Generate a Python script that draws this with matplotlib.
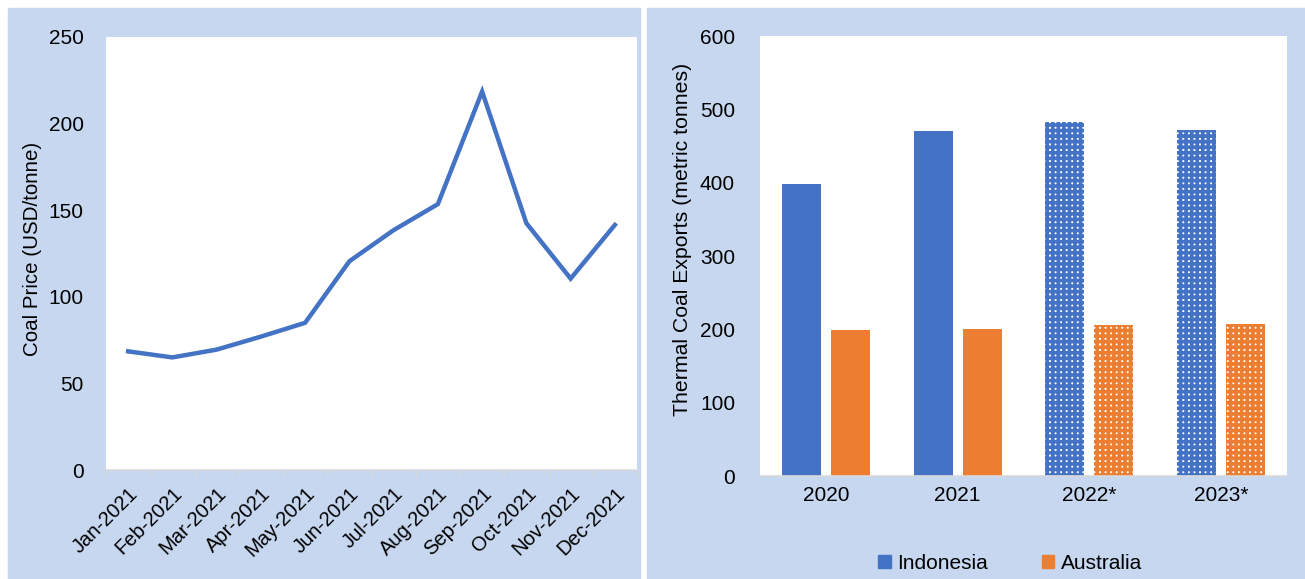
import matplotlib.pyplot as plt
import matplotlib.patches as mpatches
import numpy as np

plt.rcParams['font.family'] = ['Liberation Sans', 'DejaVu Sans']
plt.rcParams['hatch.linewidth'] = 2.6

# data
months = ['Jan-2021', 'Feb-2021', 'Mar-2021', 'Apr-2021', 'May-2021', 'Jun-2021',
          'Jul-2021', 'Aug-2021', 'Sep-2021', 'Oct-2021', 'Nov-2021', 'Dec-2021']
coal_price = [68.5, 65, 69.5, 77, 85, 120.5, 138.5, 153.5, 218.5, 142.5, 110.5, 141.5]

years = ['2020', '2021', '2022*', '2023*']
indonesia = [398, 471, 483, 472]
australia = [199, 200, 206, 207]
forecast = [False, False, True, True]

blue = '#4472C4'
orange = '#ED7D31'
panel_bg = '#C6D7EF'
gray = '#D9D9D9'

fig = plt.figure(figsize=(13.05, 5.79), dpi=100)
W, H = 1305, 579

# panel backgrounds
fig.patches.append(mpatches.Rectangle((8 / W, 0), (640 - 8) / W, (H - 8) / H,
                                      transform=fig.transFigure, color=panel_bg, zorder=-1))
fig.patches.append(mpatches.Rectangle((647 / W, 0), (W - 647) / W, (H - 8) / H,
                                      transform=fig.transFigure, color=panel_bg, zorder=-1))

# left: coal price line
ax1 = fig.add_axes([106 / W, (H - 470) / H, 531 / W, 433 / H])
ax1.set_facecolor('white')
x = np.arange(len(months))
ax1.plot(x, coal_price, color=blue, lw=3.2, solid_joinstyle='miter')
ax1.set_xlim(-0.5, len(months) - 0.5)
ax1.set_ylim(0, 250)
ax1.set_yticks(range(0, 251, 50))
ax1.set_xticks(x)
ax1.set_xticklabels(months, rotation=45, ha='right', rotation_mode='anchor')
ax1.set_xticks(np.arange(-0.5, len(months), 1), minor=True)
ax1.tick_params(axis='x', which='major', length=0, pad=10, labelsize=14.5)
ax1.tick_params(axis='x', which='minor', length=5, color=gray, width=1)
ax1.tick_params(axis='y', length=0, pad=16, labelsize=15)
for s in ['top', 'right', 'left']:
    ax1.spines[s].set_visible(False)
ax1.spines['bottom'].set_color(gray)
ax1.spines['bottom'].set_linewidth(1.2)
ax1.set_ylabel('Coal Price (USD/tonne)', fontsize=14.8, labelpad=5)
ax1.yaxis.label.set_y(0.51)

# right: thermal coal exports
ax2 = fig.add_axes([760 / W, (H - 476) / H, 527 / W, 440 / H])
ax2.set_facecolor('white')
xb = np.arange(len(years))
bw = 0.295
off = 0.186
for i in range(len(years)):
    if forecast[i]:
        ax2.bar(xb[i] - off, indonesia[i], bw, facecolor='white', edgecolor=blue,
                hatch='+++', lw=0)
        ax2.bar(xb[i] + off, australia[i], bw, facecolor='white', edgecolor=orange,
                hatch='+++', lw=0)
    else:
        ax2.bar(xb[i] - off, indonesia[i], bw, color=blue)
        ax2.bar(xb[i] + off, australia[i], bw, color=orange)
ax2.set_xlim(-0.5, len(years) - 0.5)
ax2.set_ylim(0, 600)
ax2.set_yticks(range(0, 601, 100))
ax2.set_xticks(xb)
ax2.set_xticklabels(years)
ax2.tick_params(axis='x', length=0, pad=7, labelsize=15)
ax2.tick_params(axis='y', length=0, pad=18, labelsize=15)
for s in ['top', 'right', 'left']:
    ax2.spines[s].set_visible(False)
ax2.spines['bottom'].set_color(gray)
ax2.spines['bottom'].set_linewidth(1.2)
ax2.set_ylabel('Thermal Coal Exports (metric tonnes)', fontsize=15.3, labelpad=6)
ax2.yaxis.label.set_y(0.537)

handles = [mpatches.Patch(color=blue, label='Indonesia'),
           mpatches.Patch(color=orange, label='Australia')]
fig.legend(handles=handles, loc='center', bbox_to_anchor=(0.774, 0.027), ncol=2,
           frameon=False, fontsize=15, handlelength=0.6, handleheight=0.6,
           handletextpad=0.3, columnspacing=2.6)

fig.savefig('out.png', dpi=100, facecolor='white')
